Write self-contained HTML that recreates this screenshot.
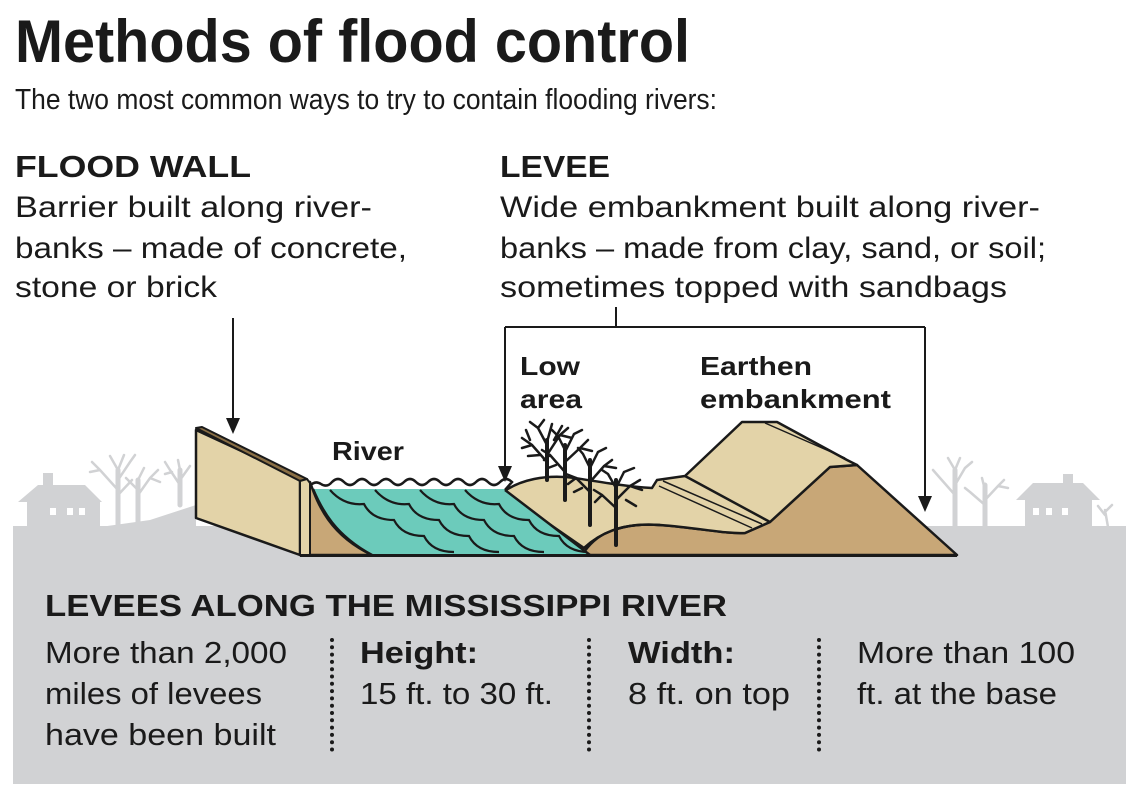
<!DOCTYPE html>
<html><head><meta charset="utf-8"><style>
html,body{margin:0;padding:0;background:#fff;}
svg{display:block;}
text{font-family:"Liberation Sans",sans-serif;fill:#1a1a1a;}
.b{font-weight:bold;}
</style></head><body>
<svg width="1138" height="800" viewBox="0 0 1138 800" xmlns="http://www.w3.org/2000/svg">
<!-- header text -->
<text x="15" y="62" class="b" font-size="60" textLength="675" lengthAdjust="spacingAndGlyphs">Methods of flood control</text>
<text x="15" y="109" font-size="29" textLength="702" lengthAdjust="spacingAndGlyphs">The two most common ways to try to contain flooding rivers:</text>
<text x="15" y="177" class="b" font-size="31" textLength="236" lengthAdjust="spacingAndGlyphs">FLOOD WALL</text>
<text x="500" y="177" class="b" font-size="31" textLength="110" lengthAdjust="spacingAndGlyphs">LEVEE</text>
<g font-size="30">
<text x="15" y="217" textLength="357" lengthAdjust="spacingAndGlyphs">Barrier built along river-</text>
<text x="15" y="258" textLength="392" lengthAdjust="spacingAndGlyphs">banks – made of concrete,</text>
<text x="15" y="297" textLength="202" lengthAdjust="spacingAndGlyphs">stone or brick</text>
<text x="500" y="217" textLength="540" lengthAdjust="spacingAndGlyphs">Wide embankment built along river-</text>
<text x="500" y="258" textLength="546" lengthAdjust="spacingAndGlyphs">banks – made from clay, sand, or soil;</text>
<text x="500" y="297" textLength="507" lengthAdjust="spacingAndGlyphs">sometimes topped with sandbags</text>
</g>

<!-- gray background silhouettes -->
<g fill="#d1d2d4" stroke="none">
<rect x="13" y="526" width="1113" height="258"/>
<path d="M13,527 L100,527 L150,520 L196,505 L196,527 Z"/>
<path d="M27,527 L27,502 L18,502 L38,485 L43,485 L43,473 L53,473 L53,485 L85,485 L102,502 L100,502 L100,527 Z"/>
<path d="M1025,527 L1025,500 L1016,500 L1033,483 L1063,483 L1063,474 L1073,474 L1073,483 L1083,483 L1100,500 L1092,500 L1092,527 Z"/>
</g>
<g fill="#fff"><rect x="50" y="508" width="6" height="7"/><rect x="67" y="508" width="6" height="7"/><rect x="79" y="508" width="6" height="7"/>
<rect x="1033" y="508" width="6" height="7"/><rect x="1046" y="508" width="6" height="7"/><rect x="1062" y="508" width="6" height="7"/></g>
<g stroke="#d1d2d4" fill="none" stroke-linecap="round">
<path stroke-width="5" d="M118,527 L118,470 M138,527 L138,480 M180,505 L180,470 M955,527 L955,470 M985,527 L985,485"/>
<path stroke-width="2.5" d="M118,490 L100,470 L92,462 M118,480 L130,462 L135,455 M118,470 L110,456 M118,470 L124,455 M118,495 L132,480 M100,470 L90,472 M138,495 L150,478 L158,470 M138,490 L126,478 M138,480 L144,468 M150,478 L160,482 M180,485 L170,470 L165,462 M180,480 L190,466 M180,470 L178,460 M172,472 L165,474
M955,495 L940,478 L933,470 M955,485 L965,468 L972,462 M955,470 L948,458 M955,470 L960,458 M985,505 L970,492 M985,500 L998,486 L1004,480 M985,490 L982,478 M970,492 L965,488 M998,486 L1008,488 M1108,527 L1105,510 M1105,515 L1098,506 M1105,512 L1112,505"/>
</g>

<g stroke="#1a1a1a" stroke-width="2.5" stroke-linejoin="round">
<path fill="#c8a777" d="M300,482 L310,482 C318,505 330,535 372,555 L300,555 Z"/>
<path fill="#c8a777" d="M582,555 C595,535 615,522 660,525 C700,528 725,534 745,533 L770,522 L830,467 L857,465 L957,555 Z"/>
<path fill="#e3d3a8" d="M196,430 L300,478 L300,555 L196,518 Z"/>
<path fill="#8a6f45" d="M196,428 L202,427 L307,479 L300,481 Z" stroke-width="2"/>
<path fill="#e3d3a8" d="M300,481 L307,479 L310,483 L310,555 L300,555 Z" stroke-width="2"/>
<path fill="#e3d3a8" d="M503,492 C520,480 545,474 575,478 C600,482 630,487 652,488 L657,480 L685,476 L742,422 L777,422 L847,460 L857,465 L830,467 L770,522 L745,533 C725,534 700,528 660,525 C620,522 598,535 584,548 Z"/>
</g>
<g stroke="#1a1a1a" fill="none">
<path stroke-width="1.5" d="M765,423 L845,458 M659,486 L752,528 M663,481 L762,524"/>
<path stroke-width="2.5" d="M685,476 L770,522 M584,548 C598,535 620,522 660,525"/>
</g>

<defs><clipPath id="wc"><path d="M313,489 L505,489 L590,555 L372,555 C335,535 322,510 313,489 Z"/></clipPath></defs>
<path fill="#6ccbbb" d="M313,489 L505,489 L590,555 L372,555 C335,535 322,510 313,489 Z"/>
<g clip-path="url(#wc)" stroke="#1a1a1a" stroke-width="2.2" fill="none">
<path d="M330,490 q14,16 34,14 q8,16 30,16 q8,16 30,16 q8,16 30,16"/>
<path d="M375,490 q14,16 34,14 q8,16 30,16 q8,16 30,16 q8,16 30,16"/>
<path d="M420,490 q14,16 34,14 q8,16 30,16 q8,16 30,16 q8,16 30,16"/>
<path d="M465,490 q14,16 34,14 q8,16 30,16 q8,16 30,16 q8,16 30,16"/>
</g>
<path stroke="#1a1a1a" stroke-width="2.5" fill="none" d="M310,486 q5,-6 11,-2 q6,4 11,-2 q6,-6 12,0 q6,6 12,0 q6,-6 12,0 q6,6 12,0 q6,-6 12,0 q6,6 12,0 q6,-6 12,0 q6,6 12,0 q6,-6 12,0 q6,6 12,0 q6,-6 12,0 q6,6 12,0 q6,-6 12,0 q6,6 12,0 q6,-6 12,0 L505,490"/>
<path stroke="#1a1a1a" stroke-width="2.5" fill="none" d="M505,490 L590,555 M313,489 C322,510 335,535 372,555"/>
<line x1="300" y1="555.5" x2="957" y2="555.5" stroke="#1a1a1a" stroke-width="3"/>

<!-- black trees -->
<g stroke="#1a1a1a" fill="none" stroke-linecap="round">
<path stroke-width="4" d="M547,480 L547,440 M565,500 L565,445 M590,525 L590,460 M616,545 L616,480"/>
<path stroke-width="2.5" d="M547,462 L532,445 L522,438 M547,455 L560,435 L568,428 M547,445 L538,428 M547,442 L552,424 M532,445 L522,448 M538,428 L530,422 M560,435 L572,438 M530,440 L526,430 M554,440 L562,426 M540,455 L528,456 M538,428 L544,420
M565,472 L550,455 L542,450 M565,462 L580,448 L588,440 M565,450 L558,436 M565,452 L574,434 M550,455 L544,460 M580,448 L592,451 M558,436 L552,430 M574,434 L582,430 M556,465 L548,468
M590,492 L576,478 L566,474 M590,482 L604,466 L612,460 M590,468 L583,454 M590,468 L598,452 M576,478 L568,484 M604,466 L616,468 M583,454 L578,448 M598,452 L606,448 M582,488 L574,492
M616,508 L602,495 L594,490 M616,500 L630,486 L640,480 M616,488 L608,474 M616,488 L624,472 M602,495 L595,502 M630,486 L642,490 M624,472 L634,468 M608,474 L602,470 M626,500 L636,506"/>
</g>

<g font-size="26">
<text x="332" y="460" class="b" textLength="72" lengthAdjust="spacingAndGlyphs">River</text>
<text x="520" y="375" class="b" textLength="60" lengthAdjust="spacingAndGlyphs">Low</text>
<text x="520" y="408" class="b" textLength="62" lengthAdjust="spacingAndGlyphs">area</text>
<text x="700" y="375" class="b" textLength="112" lengthAdjust="spacingAndGlyphs">Earthen</text>
<text x="700" y="408" class="b" textLength="191" lengthAdjust="spacingAndGlyphs">embankment</text>
</g>

<g stroke="#1a1a1a" stroke-width="2" fill="none">
<line x1="233" y1="318" x2="233" y2="420"/>
<path d="M616,307 L616,327 M505,327 L925,327 M505,327 L505,470 M925,327 L925,500"/>
</g>
<g fill="#1a1a1a">
<path d="M226,418 L240,418 L233,434 Z"/>
<path d="M498,466 L512,466 L505,482 Z"/>
<path d="M918,496 L932,496 L925,512 Z"/>
</g>

<text x="45" y="616" class="b" font-size="31" textLength="682" lengthAdjust="spacingAndGlyphs">LEVEES ALONG THE MISSISSIPPI RIVER</text>
<g font-size="31">
<text x="45" y="663" textLength="242" lengthAdjust="spacingAndGlyphs">More than 2,000</text>
<text x="45" y="704" textLength="217" lengthAdjust="spacingAndGlyphs">miles of levees</text>
<text x="45" y="745" textLength="231" lengthAdjust="spacingAndGlyphs">have been built</text>
<text x="360" y="663" class="b" textLength="118" lengthAdjust="spacingAndGlyphs">Height:</text>
<text x="360" y="704" textLength="193" lengthAdjust="spacingAndGlyphs">15 ft. to 30 ft.</text>
<text x="628" y="663" class="b" textLength="107" lengthAdjust="spacingAndGlyphs">Width:</text>
<text x="628" y="704" textLength="162" lengthAdjust="spacingAndGlyphs">8 ft. on top</text>
<text x="857" y="663" textLength="218" lengthAdjust="spacingAndGlyphs">More than 100</text>
<text x="857" y="704" textLength="200" lengthAdjust="spacingAndGlyphs">ft. at the base</text>
</g>
<g stroke="#1a1a1a" stroke-width="4" stroke-linecap="round" stroke-dasharray="0 7.3">
<line x1="332" y1="640" x2="332" y2="756"/>
<line x1="589" y1="640" x2="589" y2="756"/>
<line x1="819" y1="640" x2="819" y2="756"/>
</g>
</svg>
</body></html>
